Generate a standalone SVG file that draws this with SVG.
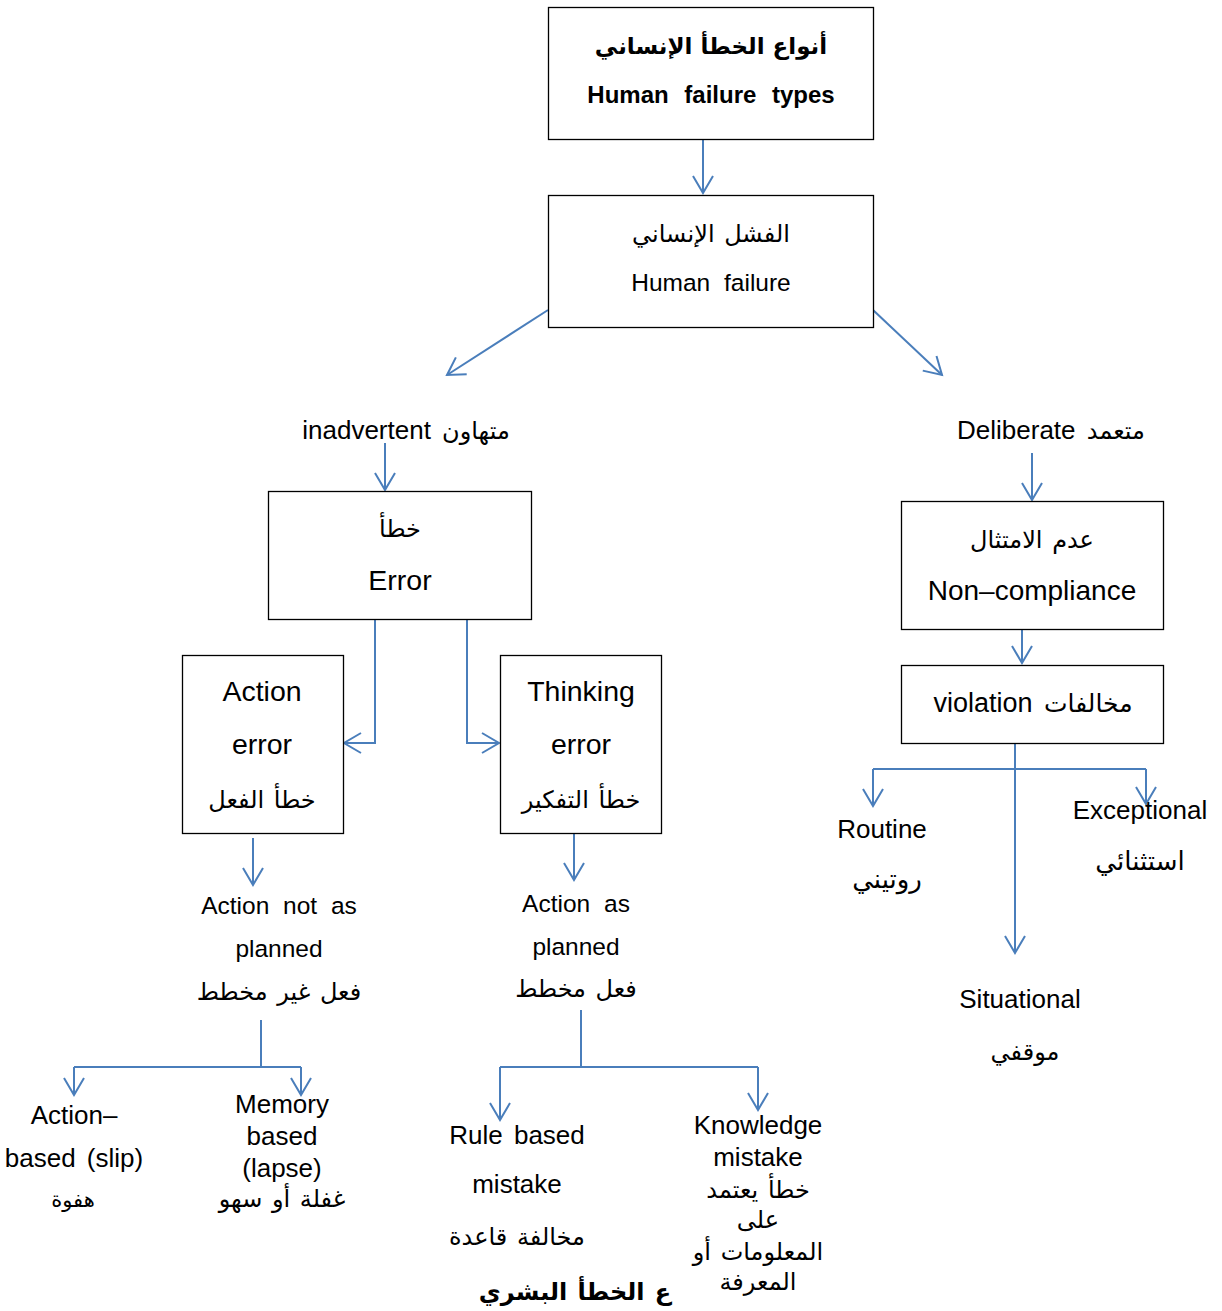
<svg xmlns="http://www.w3.org/2000/svg" width="1222" height="1311" viewBox="0 0 1222 1311">
<style>
.box{fill:#fff;stroke:#000;stroke-width:1.3}
.t{font-family:"Liberation Sans","DejaVu Sans",sans-serif;font-size:26px;fill:#000;text-anchor:middle;word-spacing:4px}
.b{font-weight:bold}
.big{font-size:28.5px}
.ar{font-family:"DejaVu Sans","Liberation Sans",sans-serif;font-size:24px;word-spacing:2px}
.c{fill:none;stroke:#4a7ebb;stroke-width:2}
</style>
<defs>
<marker id="ah" markerUnits="userSpaceOnUse" viewBox="-20 -12 24 24" refX="0" refY="0" markerWidth="24" markerHeight="24" orient="auto" overflow="visible">
<path d="M-17,-10 L0,0 L-17,10" fill="none" stroke="#4a7ebb" stroke-width="2"/>
</marker>
</defs>
<g id="connectors">
<path class="c" d="M703,139 V193" marker-end="url(#ah)"/>
<path class="c" d="M548,310 L447,375" marker-end="url(#ah)"/>
<path class="c" d="M873,310 L942,375" marker-end="url(#ah)"/>
<path class="c" d="M385,443 V490" marker-end="url(#ah)"/>
<path class="c" d="M1032,453 V500" marker-end="url(#ah)"/>
<path class="c" d="M375,619 V743 H344" marker-end="url(#ah)"/>
<path class="c" d="M467,619 V743 H499" marker-end="url(#ah)"/>
<path class="c" d="M253,838 V885" marker-end="url(#ah)"/>
<path class="c" d="M574,833 V880" marker-end="url(#ah)"/>
<path class="c" d="M261,1020 V1067"/>
<path class="c" d="M74,1067 H301"/>
<path class="c" d="M74,1067 V1095" marker-end="url(#ah)"/>
<path class="c" d="M301,1067 V1095" marker-end="url(#ah)"/>
<path class="c" d="M581,1010 V1067"/>
<path class="c" d="M500,1067 H758"/>
<path class="c" d="M500,1067 V1120" marker-end="url(#ah)"/>
<path class="c" d="M758,1067 V1110" marker-end="url(#ah)"/>
<path class="c" d="M1022,629 V663" marker-end="url(#ah)"/>
<path class="c" d="M1015,743 V953" marker-end="url(#ah)"/>
<path class="c" d="M873,769 H1146"/>
<path class="c" d="M873,769 V806" marker-end="url(#ah)"/>
<path class="c" d="M1146,769 V804" marker-end="url(#ah)"/>
</g>
<g id="n-types">
<rect class="box" x="548.5" y="7.5" width="325" height="132"/>
<text class="t ar b" x="711" y="54" style="font-size:23px;word-spacing:0">أنواع الخطأ الإنساني</text>
<text class="t b" x="711" y="103" style="font-size:24px;word-spacing:9px">Human failure types</text>
</g>
<g id="n-failure">
<rect class="box" x="548.5" y="195.5" width="325" height="132"/>
<text class="t ar" x="711" y="242">الفشل الإنساني</text>
<text class="t" x="711" y="291" style="font-size:24.5px;word-spacing:7px">Human failure</text>
</g>
<g id="n-inadvertent">
<text class="t" x="406" y="439">inadvertent <tspan class="ar">متهاون</tspan></text>
</g>
<g id="n-deliberate">
<text class="t" x="1051" y="439">Deliberate <tspan class="ar">متعمد</tspan></text>
</g>
<g id="n-error">
<rect class="box" x="268.5" y="491.5" width="263" height="128"/>
<text class="t ar" x="400" y="537">خطأ</text>
<text class="t big" x="400" y="590">Error</text>
</g>
<g id="n-action-error">
<rect class="box" x="182.5" y="655.5" width="161" height="178"/>
<text class="t big" x="262" y="701">Action</text>
<text class="t big" x="262" y="754">error</text>
<text class="t ar" x="262" y="808">خطأ الفعل</text>
</g>
<g id="n-thinking-error">
<rect class="box" x="500.5" y="655.5" width="161" height="178"/>
<text class="t big" x="581" y="701">Thinking</text>
<text class="t big" x="581" y="754">error</text>
<text class="t ar" x="581" y="808">خطأ التفكير</text>
</g>
<g id="n-not-planned">
<text class="t" x="279" y="914" style="font-size:24.5px;word-spacing:7px">Action not as</text>
<text class="t" x="279" y="957" style="font-size:24.5px">planned</text>
<text class="t ar" x="279" y="1000">فعل غير مخطط</text>
</g>
<g id="n-planned">
<text class="t" x="576" y="912" style="font-size:24.5px;word-spacing:7px">Action as</text>
<text class="t" x="576" y="955" style="font-size:24.5px">planned</text>
<text class="t ar" x="576" y="997">فعل مخطط</text>
</g>
<g id="n-slip">
<text class="t" x="74" y="1124">Action–</text>
<text class="t" x="74" y="1167">based (slip)</text>
<text class="t ar" x="73" y="1207" style="font-size:21px">هفوة</text>
</g>
<g id="n-lapse">
<text class="t" x="282" y="1113">Memory</text>
<text class="t" x="282" y="1145">based</text>
<text class="t" x="282" y="1177">(lapse)</text>
<text class="t ar" x="282" y="1207">غفلة أو سهو</text>
</g>
<g id="n-rule">
<text class="t" x="517" y="1144">Rule based</text>
<text class="t" x="517" y="1193">mistake</text>
<text class="t ar" x="517" y="1245">مخالفة قاعدة</text>
</g>
<g id="n-knowledge">
<text class="t" x="758" y="1134">Knowledge</text>
<text class="t" x="758" y="1166">mistake</text>
<text class="t ar" x="758" y="1198">خطأ يعتمد</text>
<text class="t ar" x="758" y="1228">على</text>
<text class="t ar" x="758" y="1260">المعلومات أو</text>
<text class="t ar" x="758" y="1290">المعرفة</text>
</g>
<g id="n-caption">
<text class="t ar b" x="575" y="1300">ع الخطأ البشري</text>
</g>
<g id="n-noncompliance">
<rect class="box" x="901.5" y="501.5" width="262" height="128"/>
<text class="t ar" x="1032" y="548">عدم الامتثال</text>
<text class="t" x="1032" y="600" style="font-size:28px">Non–compliance</text>
</g>
<g id="n-violation">
<rect class="box" x="901.5" y="665.5" width="262" height="78"/>
<text class="t" x="1033" y="712" style="font-size:27px">violation <tspan class="ar" style="font-size:25px">مخالفات</tspan></text>
</g>
<g id="n-routine">
<text class="t" x="882" y="838">Routine</text>
<text class="t ar" x="887" y="888" style="font-size:26px">روتيني</text>
</g>
<g id="n-exceptional">
<text class="t" x="1140" y="819">Exceptional</text>
<text class="t ar" x="1140" y="870" style="font-size:26px">استثنائي</text>
</g>
<g id="n-situational">
<text class="t" x="1020" y="1008">Situational</text>
<text class="t ar" x="1025" y="1060">موقفي</text>
</g>
</svg>
